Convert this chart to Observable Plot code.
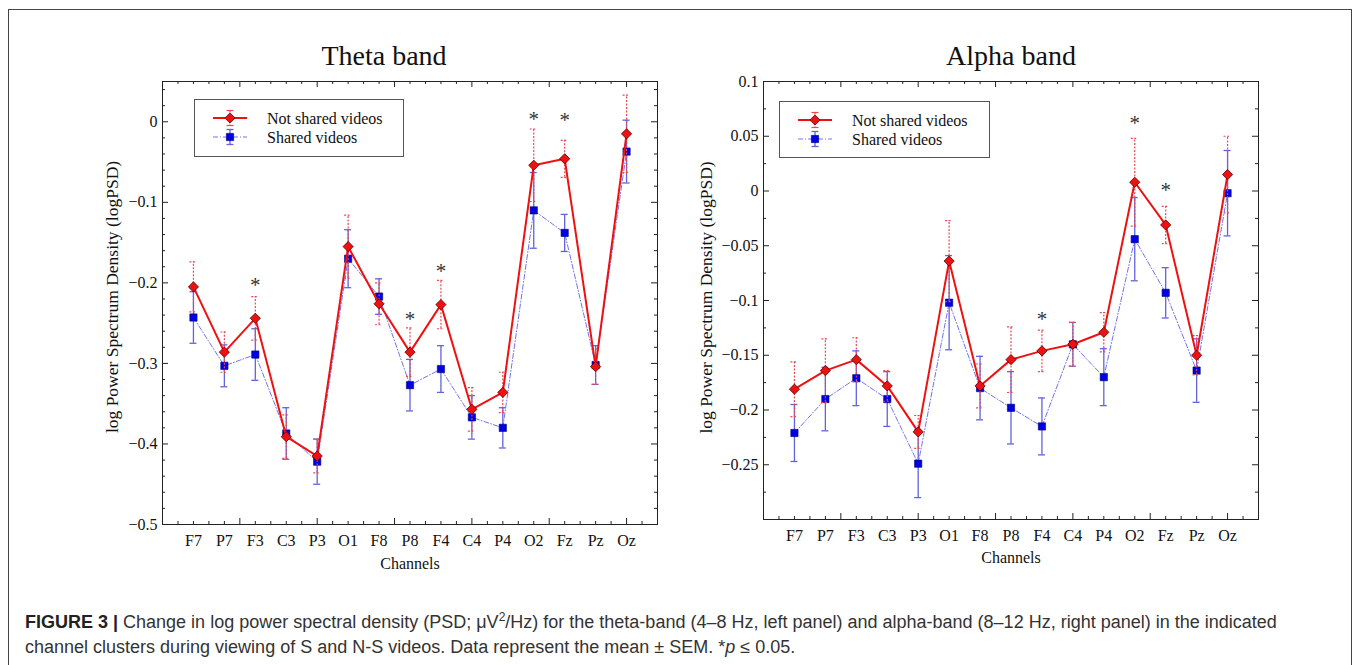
<!DOCTYPE html>
<html><head><meta charset="utf-8">
<script src="https://cdn.jsdelivr.net/npm/d3@7"></script>
<script src="https://cdn.jsdelivr.net/npm/@observablehq/plot@0.6"></script>
<style>
html,body{margin:0;padding:0;background:#fff;overflow:hidden}
#page{position:relative;width:1354px;height:665px;overflow:hidden;background:#fff}
#border{position:absolute;left:8px;top:9px;width:1342px;height:700px;border:1px solid #444;}
.plotbox{position:absolute;top:0}
.plotbox svg{background:transparent !important;max-width:none !important}
.legend{position:absolute;overflow:visible}
#caption{position:absolute;left:25px;top:610px;font-family:"Liberation Sans",Arial,sans-serif;font-size:18px;line-height:25px;color:#333;white-space:nowrap}
#caption b{color:#222}
</style></head>
<body>
<div id="page">
<div id="border"></div>
<div id="left" class="plotbox" style="left:60px"></div>
<div id="right" class="plotbox" style="left:660px"></div>
<svg id="legL" class="legend" style="left:194px;top:99px" width="210" height="58"></svg>
<svg id="legR" class="legend" style="left:779px;top:101px" width="211" height="57"></svg>
<div id="caption"><b>FIGURE 3 |</b> Change in log power spectral density (PSD; μV<sup style="font-size:12px;line-height:0">2</sup>/Hz) for the theta-band (4–8 Hz, left panel) and alpha-band (8–12 Hz, right panel) in the indicated<br>channel clusters during viewing of S and N-S videos. Data represent the mean ± SEM. *<i>p</i> ≤ 0.05.</div>
</div>
<script>
// ---------- data ----------
const channels = ["F7","P7","F3","C3","P3","O1","F8","P8","F4","C4","P4","O2","Fz","Pz","Oz"];

const thetaNotShared    = [-0.205,-0.286,-0.244,-0.391,-0.415,-0.155,-0.226,-0.286,-0.227,-0.357,-0.336,-0.054,-0.046,-0.304,-0.015];
const thetaNotSharedSem = [0.031,0.025,0.027,0.027,0.021,0.039,0.026,0.030,0.030,0.027,0.025,0.045,0.023,0.022,0.048];
const thetaShared       = [-0.243,-0.303,-0.289,-0.387,-0.422,-0.170,-0.217,-0.327,-0.307,-0.367,-0.380,-0.110,-0.138,-0.302,-0.037];
const thetaSharedSem    = [0.032,0.026,0.032,0.032,0.028,0.036,0.022,0.032,0.029,0.027,0.025,0.047,0.023,0.024,0.039];
const thetaStarChannels = ["F3","P8","F4","O2","Fz"];
const thetaStarY        = [-0.199,-0.241,-0.182,0.007,0.005];
const thetaYTicks       = [0,-0.1,-0.2,-0.3,-0.4,-0.5];

const alphaNotShared    = [-0.181,-0.164,-0.154,-0.178,-0.220,-0.064,-0.178,-0.154,-0.146,-0.140,-0.129,0.008,-0.031,-0.150,0.015];
const alphaNotSharedSem = [0.025,0.029,0.020,0.014,0.015,0.037,0.020,0.030,0.019,0.020,0.018,0.040,0.017,0.018,0.035];
const alphaShared       = [-0.221,-0.190,-0.171,-0.190,-0.249,-0.102,-0.180,-0.198,-0.215,-0.140,-0.170,-0.044,-0.093,-0.164,-0.002];
const alphaSharedSem    = [0.026,0.029,0.025,0.025,0.031,0.043,0.029,0.033,0.026,0.020,0.026,0.038,0.023,0.029,0.039];
const alphaStarChannels = ["F4","O2","Fz"];
const alphaStarY        = [-0.114,0.065,0.003];
const alphaYTicks       = [0.1,0.05,0,-0.05,-0.1,-0.15,-0.2,-0.25];

const seriesNames = ["Not shared videos","Shared videos"];

// ---------- style ----------
const RED = "#ee1111", RED_BAR = "#e84a55", BLUE_LINE = "#7474ea", BLUE_BAR = "#6262dc", BLUE_DOT = "#0000e6";
const fmt = d => d === 0 ? "0" : d3.format(".2~f")(d);

function panel(o) {
  const {width, height, mL, mR, mT, mB} = o;
  const innerW = width - mL - mR, innerH = height - mT - mB;
  const xDom = [-1, channels.length];
  const pxX = innerW / (xDom[1] - xDom[0]);
  const cap = 3.5 / pxX;
  const rows = channels.map((c, i) => ({i, c, ns: o.ns[i], nsSem: o.nsSem[i], s: o.s[i], sSem: o.sSem[i]}));
  const stars = o.starCh.map((c, k) => ({i: channels.indexOf(c), y: o.starY[k]}));
  const xAll = d3.range(-0.5, channels.length, 0.5);
  const xMajor = xAll.filter(v => Math.abs(((v + 1) / 2.5) - Math.round((v + 1) / 2.5)) < 1e-6);
  const xMinor = xAll.filter(v => !xMajor.includes(v));
  const [y0, y1] = o.yDomain;
  const yAll = d3.range(Math.round(y0 / o.yMinorStep), Math.round(y1 / o.yMinorStep) + 1).map(k => +(k * o.yMinorStep).toFixed(6)).filter(v => v > y0 + 1e-9 && v < y1 - 1e-9);
  const yMajor = yAll.filter(v => o.yTicks.some(t => Math.abs(t - v) < 1e-9));
  const yMinor = yAll.filter(v => !yMajor.includes(v));
  const tk = "#222";
  const Lmaj = 6, Lmin = 3;
  return Plot.plot({
    width, height, marginLeft: mL, marginRight: mR, marginTop: mT, marginBottom: mB,
    style: {fontFamily: "'Liberation Serif','Times New Roman',serif", fontSize: "16px", background: "transparent", color: "#111"},
    x: {domain: xDom},
    y: {domain: o.yDomain},
    marks: [
      // inward frame ticks
      Plot.ruleX(xMajor, {x: d => d, insetTop: innerH - Lmaj, stroke: tk}),
      Plot.ruleX(xMinor, {x: d => d, insetTop: innerH - Lmin, stroke: tk}),
      Plot.ruleX(xMajor, {x: d => d, insetBottom: innerH - Lmaj, stroke: tk}),
      Plot.ruleX(xMinor, {x: d => d, insetBottom: innerH - Lmin, stroke: tk}),
      Plot.ruleY(yMajor, {y: d => d, insetRight: innerW - Lmaj, stroke: tk}),
      Plot.ruleY(yMinor, {y: d => d, insetRight: innerW - Lmin, stroke: tk}),
      Plot.ruleY(yMajor, {y: d => d, insetLeft: innerW - Lmaj, stroke: tk}),
      Plot.ruleY(yMinor, {y: d => d, insetLeft: innerW - Lmin, stroke: tk}),
      Plot.frame({stroke: "#222", strokeWidth: 1}),
      // shared (blue)
      Plot.ruleX(rows, {x: "i", y1: d => d.s - d.sSem, y2: d => d.s + d.sSem, stroke: BLUE_BAR, strokeWidth: 1.3}),
      Plot.ruleY(rows, {y: d => d.s + d.sSem, x1: d => d.i - cap, x2: d => d.i + cap, stroke: BLUE_BAR, strokeWidth: 1.3}),
      Plot.ruleY(rows, {y: d => d.s - d.sSem, x1: d => d.i - cap, x2: d => d.i + cap, stroke: BLUE_BAR, strokeWidth: 1.3}),
      Plot.line(rows, {x: "i", y: "s", stroke: BLUE_LINE, strokeWidth: 1, strokeDasharray: "5,2,1,2"}),
      Plot.dot(rows, {x: "i", y: "s", symbol: "square", r: 4.1, fill: BLUE_DOT, stroke: "#000070", strokeWidth: 0.6}),
      // not shared (red)
      Plot.ruleX(rows, {x: "i", y1: d => d.ns - d.nsSem, y2: d => d.ns + d.nsSem, stroke: RED_BAR, strokeWidth: 1.2, strokeDasharray: "2,1.5"}),
      Plot.ruleY(rows, {y: d => d.ns + d.nsSem, x1: d => d.i - cap, x2: d => d.i + cap, stroke: RED_BAR, strokeWidth: 1.2, strokeDasharray: "2,1.5"}),
      Plot.ruleY(rows, {y: d => d.ns - d.nsSem, x1: d => d.i - cap, x2: d => d.i + cap, stroke: RED_BAR, strokeWidth: 1.2, strokeDasharray: "2,1.5"}),
      Plot.line(rows, {x: "i", y: "ns", stroke: RED, strokeWidth: 2}),
      Plot.dot(rows, {x: "i", y: "ns", symbol: "diamond2", r: 4.6, fill: RED, stroke: "#5a0000", strokeWidth: 0.8}),
      // significance stars
      Plot.text(stars, {x: "i", y: "y", text: () => "*", fontSize: 21, fill: "#333", lineAnchor: "middle", dy: 3}),
      // axes
      Plot.axisX(d3.range(channels.length), {tickFormat: i => channels[i], tickSize: 0, tickPadding: 10, label: null, fontSize: 16}),
      Plot.axisY(o.yTicks, {tickFormat: fmt, tickSize: 0, tickPadding: 5, label: null, fontSize: 16}),
      // labels & title
      Plot.text(["Channels"], {frameAnchor: "bottom", dy: o.xlabelDy, lineAnchor: "middle", fontSize: 16}),
      Plot.text(["log Power Spectrum Density (logPSD)"], {frameAnchor: "left", dx: o.ylabelDx, dy: o.ylabelDy, rotate: -90, textAnchor: "middle", lineAnchor: "middle", fontSize: 17.5}),
      Plot.text([o.title], {frameAnchor: "top", dx: o.titleDx, dy: -17, lineAnchor: "bottom", fontSize: 28})
    ]
  });
}

document.getElementById("left").append(panel({
  title: "Theta band", titleDx: -26,
  ns: thetaNotShared, nsSem: thetaNotSharedSem, s: thetaShared, sSem: thetaSharedSem,
  starCh: thetaStarChannels, starY: thetaStarY,
  yDomain: [-0.5, 0.05], yTicks: thetaYTicks, yMinorStep: 0.02,
  width: 605, height: 590, mL: 102, mR: 8, mT: 81, mB: 66,
  xlabelDy: 39, ylabelDx: -50, ylabelDy: -6
}));
document.getElementById("right").append(panel({
  title: "Alpha band", titleDx: 0,
  ns: alphaNotShared, nsSem: alphaNotSharedSem, s: alphaShared, sSem: alphaSharedSem,
  starCh: alphaStarChannels, starY: alphaStarY,
  yDomain: [-0.3, 0.1], yTicks: alphaYTicks, yMinorStep: 0.025,
  width: 606, height: 585, mL: 103, mR: 8, mT: 81, mB: 66,
  xlabelDy: 38, ylabelDx: -57, ylabelDy: -3
}));

// ---------- legends ----------
function legend(id) {
  const svg = d3.select("#" + id);
  const w = +svg.attr("width"), h = +svg.attr("height");
  svg.append("rect").attr("x", 0.5).attr("y", 0.5).attr("width", w - 1).attr("height", h - 1).attr("fill", "#fff").attr("stroke", "#555");
  const cx = 36, rowsY = [19, 38];
  // red
  svg.append("line").attr("x1", 19).attr("x2", 53).attr("y1", rowsY[0]).attr("y2", rowsY[0]).attr("stroke", RED).attr("stroke-width", 2);
  svg.append("line").attr("x1", cx).attr("x2", cx).attr("y1", rowsY[0] - 7.5).attr("y2", rowsY[0] + 7.5).attr("stroke", RED_BAR).attr("stroke-width", 1.2).attr("stroke-dasharray", "2,1.5");
  [-7.5, 7.5].forEach(d => svg.append("line").attr("x1", cx - 3.5).attr("x2", cx + 3.5).attr("y1", rowsY[0] + d).attr("y2", rowsY[0] + d).attr("stroke", RED_BAR).attr("stroke-width", 1.2));
  svg.append("path").attr("d", d3.symbol(d3.symbolDiamond2, Math.PI * 4.6 * 4.6)()).attr("transform", `translate(${cx},${rowsY[0]})`).attr("fill", RED).attr("stroke", "#5a0000").attr("stroke-width", 0.8);
  // blue
  svg.append("line").attr("x1", 19).attr("x2", 53).attr("y1", rowsY[1]).attr("y2", rowsY[1]).attr("stroke", BLUE_LINE).attr("stroke-width", 1).attr("stroke-dasharray", "5,2,1,2");
  svg.append("line").attr("x1", cx).attr("x2", cx).attr("y1", rowsY[1] - 7.5).attr("y2", rowsY[1] + 7.5).attr("stroke", BLUE_BAR).attr("stroke-width", 1.3);
  [-7.5, 7.5].forEach(d => svg.append("line").attr("x1", cx - 3.5).attr("x2", cx + 3.5).attr("y1", rowsY[1] + d).attr("y2", rowsY[1] + d).attr("stroke", BLUE_BAR).attr("stroke-width", 1.3));
  svg.append("path").attr("d", d3.symbol(d3.symbolSquare, Math.PI * 4.1 * 4.1)()).attr("transform", `translate(${cx},${rowsY[1]})`).attr("fill", BLUE_DOT).attr("stroke", "#000070").attr("stroke-width", 0.6);
  seriesNames.forEach((t, k) => svg.append("text").attr("x", 73).attr("y", rowsY[k] + 5.5).text(t)
    .attr("font-family", "'Liberation Serif','Times New Roman',serif").attr("font-size", 16).attr("fill", "#111"));
}
legend("legL");
legend("legR");
</script>
</body></html>
